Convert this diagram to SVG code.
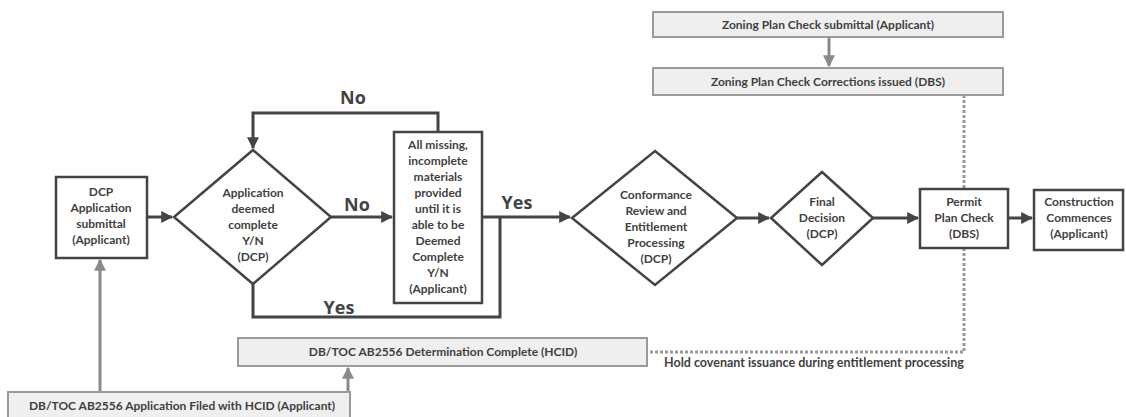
<svg xmlns="http://www.w3.org/2000/svg" width="1126" height="417" viewBox="0 0 1126 417">
<defs>
<style>
.n{fill:#fff;stroke:#444;stroke-width:2.5}
.g{fill:#efefef;stroke:#9a9a9a;stroke-width:2}
.t{font-family:Lato,"Liberation Sans",sans-serif;font-weight:bold;font-size:12px;fill:#3f3f3f;text-anchor:middle}
.s{font-size:12px}
.b{font-family:"Open Sans","Liberation Sans",sans-serif;font-weight:bold;font-size:18px;fill:#444;text-anchor:middle}
.c{fill:none;stroke:#444;stroke-width:3}
.gc{fill:none;stroke:#8a8a8a;stroke-width:3}
.d{fill:none;stroke:#999;stroke-width:3;stroke-dasharray:3 2}
</style>
<marker id="a" viewBox="0 0 10 10" refX="9" refY="5" markerWidth="4" markerHeight="4" orient="auto" markerUnits="strokeWidth"><path d="M0,0L10,5L0,10z" fill="#444"/></marker>
<marker id="ag" viewBox="0 0 10 10" refX="9" refY="5" markerWidth="4" markerHeight="4" orient="auto" markerUnits="strokeWidth"><path d="M0,0L10,5L0,10z" fill="#8a8a8a"/></marker>
</defs>
<rect width="1126" height="417" fill="#fff"/>
<g id="connectors">
<path class="c" d="M147,217H172" marker-end="url(#a)"/>
<path class="c" d="M438,132V113H253V148" marker-end="url(#a)"/>
<path class="c" d="M331,217H392" marker-end="url(#a)"/>
<path class="c" d="M482,217H570" marker-end="url(#a)"/>
<path class="c" d="M253,284V317H500V217"/>
<path class="c" d="M737,218H769" marker-end="url(#a)"/>
<path class="c" d="M873,218H918" marker-end="url(#a)"/>
<path class="c" d="M1008,218H1032" marker-end="url(#a)"/>
<path class="gc" d="M829,37V66" marker-end="url(#ag)"/>
<path class="gc" d="M100,392V260" marker-end="url(#ag)"/>
<path class="gc" d="M348,392V368" marker-end="url(#ag)"/>
<path class="d" d="M964,95V189"/>
<path class="d" d="M964,248V352H648"/>
<text class="b" x="353" y="104">No</text>
<text class="b" x="357" y="211">No</text>
<text class="b" x="517" y="209">Yes</text>
<text class="b" x="339" y="314">Yes</text>
<text class="t" x="814" y="367" style="font-size:12.5px">Hold covenant issuance during entitlement processing</text>
</g>
<g id="dcp-submittal">
<rect class="n" x="56" y="177" width="91" height="81"/>
<text class="t"><tspan x="101" y="196">DCP</tspan><tspan x="101" y="212">Application</tspan><tspan x="101" y="228">submittal</tspan><tspan x="101" y="244">(Applicant)</tspan></text>
</g>
<g id="deemed-complete">
<path class="n" d="M253,150L331,217L253,284L174,217Z"/>
<text class="t"><tspan x="253" y="197">Application</tspan><tspan x="253" y="213">deemed</tspan><tspan x="253" y="229">complete</tspan><tspan x="253" y="245">Y/N</tspan><tspan x="253" y="261">(DCP)</tspan></text>
</g>
<g id="missing-materials">
<rect class="n" x="394" y="132" width="88" height="171"/>
<text class="t"><tspan x="438" y="149">All missing,</tspan><tspan x="438" y="165">incomplete</tspan><tspan x="438" y="181">materials</tspan><tspan x="438" y="197">provided</tspan><tspan x="438" y="213">until it is</tspan><tspan x="438" y="229">able to be</tspan><tspan x="438" y="245">Deemed</tspan><tspan x="438" y="261">Complete</tspan><tspan x="438" y="277">Y/N</tspan><tspan x="438" y="293">(Applicant)</tspan></text>
</g>
<g id="conformance-review">
<path class="n" d="M655,151L737,218L655,285L572,218Z"/>
<text class="t"><tspan x="656" y="199">Conformance</tspan><tspan x="656" y="215">Review and</tspan><tspan x="656" y="231">Entitlement</tspan><tspan x="656" y="247">Processing</tspan><tspan x="656" y="263">(DCP)</tspan></text>
</g>
<g id="final-decision">
<path class="n" d="M822,172L873,218L822,265L771,218Z"/>
<text class="t"><tspan x="822" y="206">Final</tspan><tspan x="822" y="222">Decision</tspan><tspan x="822" y="238">(DCP)</tspan></text>
</g>
<g id="permit-plan-check">
<rect class="n" x="920" y="189" width="88" height="59"/>
<text class="t"><tspan x="964" y="206">Permit</tspan><tspan x="964" y="222">Plan Check</tspan><tspan x="964" y="238">(DBS)</tspan></text>
</g>
<g id="construction">
<rect class="n" x="1034" y="190" width="89" height="60"/>
<text class="t"><tspan x="1079" y="206">Construction</tspan><tspan x="1079" y="222">Commences</tspan><tspan x="1079" y="238">(Applicant)</tspan></text>
</g>
<g id="zoning-submittal">
<rect class="g" x="653" y="12" width="350" height="25"/>
<text class="t" x="828" y="29">Zoning Plan Check submittal (Applicant)</text>
</g>
<g id="zoning-corrections">
<rect class="g" x="653" y="68" width="350" height="27"/>
<text class="t" x="828" y="86">Zoning Plan Check Corrections issued (DBS)</text>
</g>
<g id="determination">
<rect class="g" x="238" y="338" width="409" height="28"/>
<text class="t" x="443" y="356">DB/TOC AB2556 Determination Complete (HCID)</text>
</g>
<g id="application-filed">
<rect class="g" x="8" y="392" width="342" height="30"/>
<text class="t" x="182" y="410">DB/TOC AB2556 Application Filed with HCID (Applicant)</text>
</g>
</svg>
